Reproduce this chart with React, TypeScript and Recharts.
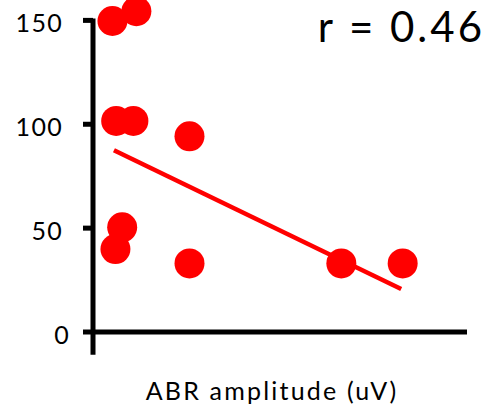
import { Label, ReferenceLine, Scatter, ScatterChart, XAxis, YAxis } from "recharts";

// ABR amplitude (uV) vs latency-like measure
const amplitude = [0.26, 0.58, 0.31, 0.54, 1.29, 0.39, 0.3, 1.29, 3.32, 4.14];
const yValues = [149.7, 154.4, 101.6, 101.6, 94.2, 50.4, 39.9, 33, 33, 33];
// linear fit end points
const fitX = [0.28, 4.12];
const fitY = [87.5, 20.7];
const xTicks = [0, 1, 2, 3, 4, 5];
const yTicks = [0, 50, 100, 150];
const xLabel = "ABR amplitude (uV)";
const rText = "r = 0.46";

const points = amplitude.map((x, i) => ({ x, y: yValues[i] }));
const fit = fitX.map((x, i) => ({ x, y: fitY[i] }));

const font = "Lato, 'Open Sans', sans-serif";

function YTick(props: any) {
  const { x, y, payload } = props;
  const shift = payload.value === 0 ? 7 : 0;
  return (
    <text x={x + shift} y={y + 11.5} textAnchor="end" fontFamily={font} fontSize={25} fill="#000" style={{ letterSpacing: 1.3 }}>
      {payload.value}
    </text>
  );
}

function XTitle(props: any) {
  const { viewBox } = props;
  const cx = viewBox.x + viewBox.width / 2 - 8;
  return (
    <text x={cx} y={400} textAnchor="middle" fontFamily={font} fontSize={25} fill="#000" style={{ letterSpacing: 2.2 }}>
      {xLabel}
    </text>
  );
}

function Dot(props: any) {
  return <circle cx={props.cx} cy={props.cy} r={15} fill="#ff0000" />;
}

export default function App() {
  return (
    <div style={{ position: "fixed", left: 0, top: 0, width: 486, height: 407, background: "#fff", fontFamily: font }}>
      <ScatterChart width={486} height={407} margin={{ top: 10, right: 19, left: 0, bottom: 0 }}>
        <XAxis
          type="number"
          dataKey="x"
          domain={[0, 5]}
          ticks={xTicks}
          height={75}
          axisLine={{ stroke: "#000", strokeWidth: 5 }}
          tickLine={{ stroke: "#000", strokeWidth: 5 }}
          tickSize={15}
          tick={false}
        >
          <Label content={<XTitle />} />
        </XAxis>
        <YAxis
          type="number"
          dataKey="y"
          domain={[0, 155]}
          ticks={yTicks}
          width={93}
          axisLine={false}
          tickLine={{ stroke: "#000", strokeWidth: 5 }}
          tickSize={10}
          tickMargin={20}
          tick={<YTick />}
        />
        <ReferenceLine
          segment={[{ x: 0, y: -11 }, { x: 0, y: 150.9 }]}
          stroke="#000"
          strokeWidth={5}
          ifOverflow="visible"
        />
        <Scatter data={points} shape={<Dot />} isAnimationActive={false} />
        <ReferenceLine
          segment={fit}
          stroke="#ff0000"
          strokeWidth={4.5}
          ifOverflow="visible"
        />
      </ScatterChart>
      <div
        style={{
          position: "absolute",
          right: 1,
          top: 5,
          fontSize: 42,
          lineHeight: "42px",
          letterSpacing: 3,
          color: "#000",
        }}
      >
        {rText}
      </div>
    </div>
  );
}
